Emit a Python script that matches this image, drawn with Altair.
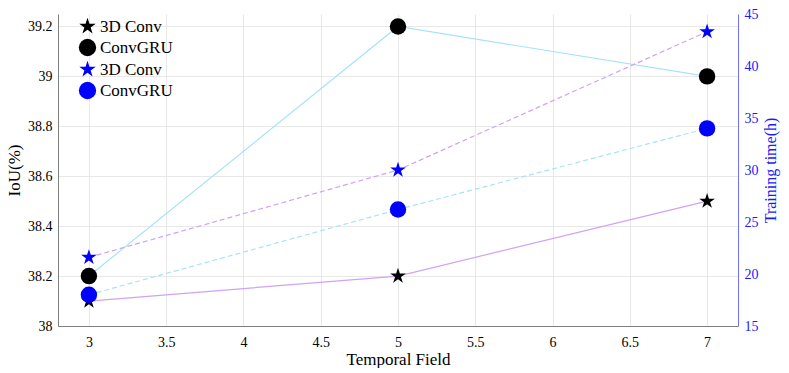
import altair as alt
import pandas as pd

# ---- data ----
temporal_field = [3, 5, 7]
iou_3dconv = [38.1, 38.2, 38.5]
iou_convgru = [38.2, 39.2, 39.0]
time_3dconv = [21.6, 30.0, 43.3]
time_convgru = [18.0, 26.2, 34.0]

series_names = ["3D Conv IoU", "ConvGRU IoU", "3D Conv time", "ConvGRU time"]
x_ticks = [3, 3.5, 4, 4.5, 5, 5.5, 6, 6.5, 7]
iou_ticks = [38, 38.2, 38.4, 38.6, 38.8, 39, 39.2]
time_ticks = [15, 20, 25, 30, 35, 40, 45]

iou_df = pd.DataFrame({
    "x": temporal_field * 2,
    "v": iou_3dconv + iou_convgru,
    "series": ["3D Conv IoU"] * 3 + ["ConvGRU IoU"] * 3,
})
time_df = pd.DataFrame({
    "x": temporal_field * 2,
    "v": time_3dconv + time_convgru,
    "series": ["3D Conv time"] * 3 + ["ConvGRU time"] * 3,
})

FONT = "Liberation Serif"
PURPLE = "#cfa2f8"
LBLUE = "#a6e3fb"
STAR = ("M0,-1 L0.2245,-0.309 L0.951,-0.309 L0.363,0.118 L0.588,0.809 "
        "L0,0.382 L-0.588,0.809 L-0.363,0.118 L-0.951,-0.309 L-0.2245,-0.309 Z")

legend_spec = alt.Legend(title=None, orient="none", legendX=20, legendY=3,
                         labelExpr="(datum.label == '3D Conv IoU' || datum.label == '3D Conv time') ? '3D Conv' : 'ConvGRU'",
                         symbolSize=300, rowPadding=3, labelFontSize=17,
                         labelFont=FONT, labelColor="black", labelOffset=3)

x_enc = alt.X("x:Q", scale=alt.Scale(domain=[2.8, 7.2], nice=False, zero=False),
              axis=alt.Axis(values=x_ticks, format="~g", title="Temporal Field",
                            ticks=False, domainColor="#7f7f7f", labelPadding=9,
                            titlePadding=2))

shape_enc = alt.Shape("series:N", scale=alt.Scale(domain=series_names,
                      range=[STAR, "circle", STAR, "circle"]), legend=legend_spec)
color_enc = alt.Color("series:N", scale=alt.Scale(domain=series_names,
                      range=["black", "black", "#0000ff", "#0000ff"]), legend=legend_spec)

y_left = alt.Y("v:Q", scale=alt.Scale(domain=[38, 39.25], nice=False, zero=False),
               axis=alt.Axis(values=iou_ticks, format="~g", title="IoU(%)", ticks=False,
                             domainColor="#7f7f7f", labelPadding=6, titlePadding=4))
y_right = alt.Y("v:Q", scale=alt.Scale(domain=[15, 45], nice=False, zero=False),
                axis=alt.Axis(values=time_ticks, orient="right", title="Training time(h)",
                              ticks=False, grid=False, domainColor="#7070ff",
                              labelColor="#1a1aff", titleColor="#1a1aff", titleAngle=270,
                              labelPadding=6, titlePadding=20, titleFontSize=16))

base_l = alt.Chart(iou_df)
left = alt.layer(
    base_l.mark_line(color=PURPLE, strokeWidth=1.2).encode(x=x_enc, y=y_left)
        .transform_filter("datum.series == '3D Conv IoU'"),
    base_l.mark_line(color=LBLUE, strokeWidth=1.2).encode(x=x_enc, y=y_left)
        .transform_filter("datum.series == 'ConvGRU IoU'"),
    base_l.mark_point(filled=True, opacity=1, size=270).encode(
        x=x_enc, y=y_left, shape=shape_enc, color=color_enc),
)

base_r = alt.Chart(time_df)
right = alt.layer(
    base_r.mark_line(color=PURPLE, strokeWidth=1.2, strokeDash=[5, 3]).encode(x=x_enc, y=y_right)
        .transform_filter("datum.series == '3D Conv time'"),
    base_r.mark_line(color=LBLUE, strokeWidth=1.2, strokeDash=[5, 3]).encode(x=x_enc, y=y_right)
        .transform_filter("datum.series == 'ConvGRU time'"),
    base_r.mark_point(filled=True, opacity=1, size=270).encode(
        x=x_enc, y=y_right, shape=shape_enc, color=color_enc),
)

chart = alt.layer(left, right).resolve_scale(y="independent").properties(
    width=680, height=312,
    autosize=alt.AutoSizeParams(type="none"),
    padding={"left": 50, "top": 6, "right": 43, "bottom": 42},
).configure(font=FONT).configure_view(stroke=None).configure_axis(
    labelFont=FONT, titleFont=FONT, labelFontSize=14, titleFontSize=17,
    titleFontWeight="normal", labelColor="black", titleColor="black",
    gridColor="#e8e8e8", gridWidth=1,
).configure_legend(labelFont=FONT)

chart.save("out.html", embed_options={"renderer": "svg", "actions": False})
